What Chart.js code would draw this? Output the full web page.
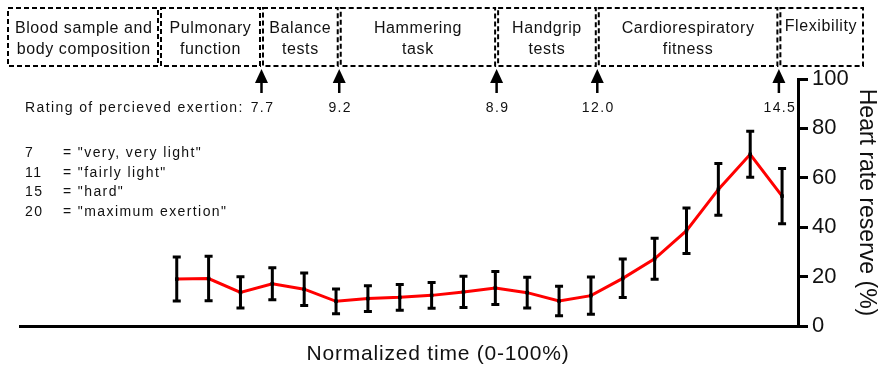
<!DOCTYPE html>
<html>
<head>
<meta charset="utf-8">
<script src="https://cdn.jsdelivr.net/npm/chart.js@4.4.0/dist/chart.umd.min.js"></script>
<style>
  html, body { margin: 0; padding: 0; background: #fff; }
  #wrap { width: 878px; height: 366px; position: relative; }
</style>
</head>
<body>
<div id="wrap"><canvas id="hrrChart"></canvas></div>
<script>
// Data
const timePoints = [5, 10, 15, 20, 25, 30, 35, 40, 45, 50, 55, 60, 65, 70, 75, 80, 85, 90, 95, 100];
const hrrMean = [19.0, 19.2, 13.6, 17.1, 14.9, 10.0, 11.1, 11.6, 12.4, 13.8, 15.4, 13.5, 10.1, 12.3, 19.3, 27.2, 38.6, 55.3, 69.5, 52.6];
const hrrSD = [8.9, 9.0, 6.3, 6.5, 6.6, 5.0, 5.2, 5.2, 5.2, 6.3, 6.7, 6.2, 6.0, 7.5, 7.8, 8.3, 9.2, 10.5, 9.3, 11.2];
const yTicks = [0, 20, 40, 60, 80, 100];

// Test stations along the top, end time of each station (normalized time) and RPE there
const testLabels = [
    ['Blood sample and', 'body composition'],
    ['Pulmonary', 'function'],
    ['Balance', 'tests'],
    ['Hammering', 'task'],
    ['Handgrip', 'tests'],
    ['Cardiorespiratory', 'fitness'],
    ['Flexibility']
];
const testEndTimes = [18.3, 30.5, 55.2, 71.0, 99.5];
const rpeValues = ['7.7', '9.2', '8.9', '12.0', '14.5'];
const rpeScale = [
    ['7', '= "very, very light"'],
    ['11', '= "fairly light"'],
    ['15', '= "hard"'],
    ['20', '= "maximum exertion"']
];

const FONT = '"Liberation Sans", Arial, Helvetica, sans-serif';
const INK = '#111';

// Error bars, drawn over the red line
const errorBarPlugin = {
    id: 'errorBars',
    afterDatasetsDraw(chart) {
        const { ctx, scales: { x, y } } = chart;
        ctx.save();
        ctx.strokeStyle = '#000';
        ctx.lineWidth = 3;
        for (let i = 0; i < timePoints.length; i++) {
            const px = x.getPixelForValue(timePoints[i]);
            const top = y.getPixelForValue(hrrMean[i] + hrrSD[i]);
            const bot = y.getPixelForValue(hrrMean[i] - hrrSD[i]);
            ctx.beginPath();
            ctx.moveTo(px, top); ctx.lineTo(px, bot);
            ctx.moveTo(px - 4, top); ctx.lineTo(px + 4, top);
            ctx.moveTo(px - 4, bot); ctx.lineTo(px + 4, bot);
            ctx.stroke();
        }
        ctx.restore();
    }
};

// Boxes, arrows, RPE text and the x title
const annotationPlugin = {
    id: 'annotations',
    afterDraw(chart) {
        const { ctx, scales: { x } } = chart;
        const arrowX = testEndTimes.map(t => x.getPixelForValue(t));
        const edges = [8, 159.5, ...arrowX, 863];
        const boxTop = 8, boxBottom = 66;

        ctx.save();
        // dashed boxes
        ctx.strokeStyle = '#000';
        ctx.lineWidth = 2;
        ctx.setLineDash([5, 3]);
        for (let i = 0; i < testLabels.length; i++) {
            const l = edges[i] + (i === 0 ? 0 : 1.5);
            const r = edges[i + 1] - (i === testLabels.length - 1 ? 0 : 1.5);
            ctx.strokeRect(l, boxTop, r - l, boxBottom - boxTop);
        }
        ctx.setLineDash([]);

        // box labels
        ctx.fillStyle = INK;
        ctx.font = '16px ' + FONT;
        ctx.letterSpacing = '0.6px';
        ctx.textAlign = 'center';
        ctx.textBaseline = 'alphabetic';
        for (let i = 0; i < testLabels.length; i++) {
            const cx = (edges[i] + edges[i + 1]) / 2;
            const lines = testLabels[i];
            lines.forEach((t, k) => {
                const yy = lines.length === 1 ? 31 : 33 + k * 21;
                ctx.fillText(t, cx, yy);
            });
        }

        // arrows
        ctx.fillStyle = '#000';
        arrowX.forEach(ax => {
            ctx.beginPath();
            ctx.moveTo(ax, 69);
            ctx.lineTo(ax - 6.5, 83);
            ctx.lineTo(ax + 6.5, 83);
            ctx.closePath();
            ctx.fill();
            ctx.fillRect(ax - 1.25, 82, 2.5, 11);
        });

        // RPE values
        ctx.fillStyle = INK;
        ctx.font = '14px ' + FONT;
        ctx.letterSpacing = '1.4px';
        ctx.textAlign = 'left';
        ctx.fillText('Rating of percieved exertion:', 25, 112);
        ctx.textAlign = 'center';
        rpeValues.forEach((v, i) => ctx.fillText(v, arrowX[i] + 1, 112));

        // RPE scale legend
        ctx.textAlign = 'left';
        rpeScale.forEach((row, i) => {
            const yy = 157 + i * 19.7;
            ctx.fillText(row[0], 25, yy);
            ctx.fillText(row[1], 63, yy);
        });

        // x axis title
        ctx.font = '21px ' + FONT;
        ctx.letterSpacing = '0.8px';
        ctx.textAlign = 'center';
        ctx.fillText('Normalized time (0-100%)', 438, 360);
        ctx.letterSpacing = '0px';
        ctx.restore();
    }
};

const ctx = document.getElementById('hrrChart').getContext('2d');
new Chart(ctx, {
    type: 'line',
    data: {
        datasets: [{
            label: 'Heart rate reserve',
            data: timePoints.map((t, i) => ({ x: t, y: hrrMean[i] })),
            borderColor: '#ff0000',
            borderWidth: 3,
            tension: 0,
            pointStyle: 'rect',
            pointRadius: 2.5,
            pointBackgroundColor: '#000',
            pointBorderColor: '#000',
            pointBorderWidth: 0
        }]
    },
    options: {
        responsive: true,
        maintainAspectRatio: false,
        animation: false,
        layout: { padding: { top: 79, left: 20, right: 0, bottom: 0 } },
        plugins: {
            legend: { display: false },
            tooltip: { enabled: false }
        },
        scales: {
            x: {
                type: 'linear',
                min: -19.6,
                max: 102.5,
                afterFit: s => { s.height = 40; },
                ticks: { display: false },
                grid: { display: false },
                border: { display: true, color: '#000', width: 3 }
            },
            y: {
                position: 'right',
                min: 0,
                max: 100,
                afterFit: s => { s.width = 80; },
                afterBuildTicks: s => { s.ticks = yTicks.map(v => ({ value: v })); },
                ticks: {
                    color: INK,
                    padding: 4,
                    font: { family: FONT, size: 22 }
                },
                grid: {
                    display: true,
                    drawOnChartArea: false,
                    drawTicks: true,
                    tickLength: 10,
                    color: '#000',
                    lineWidth: 3
                },
                border: { display: true, color: '#000', width: 3 },
                title: {
                    display: true,
                    text: 'Heart rate reserve (%)',
                    color: INK,
                    padding: 0,
                    font: { family: FONT, size: 23, lineHeight: 1 }
                }
            }
        }
    },
    plugins: [errorBarPlugin, annotationPlugin]
});
</script>
</body>
</html>
